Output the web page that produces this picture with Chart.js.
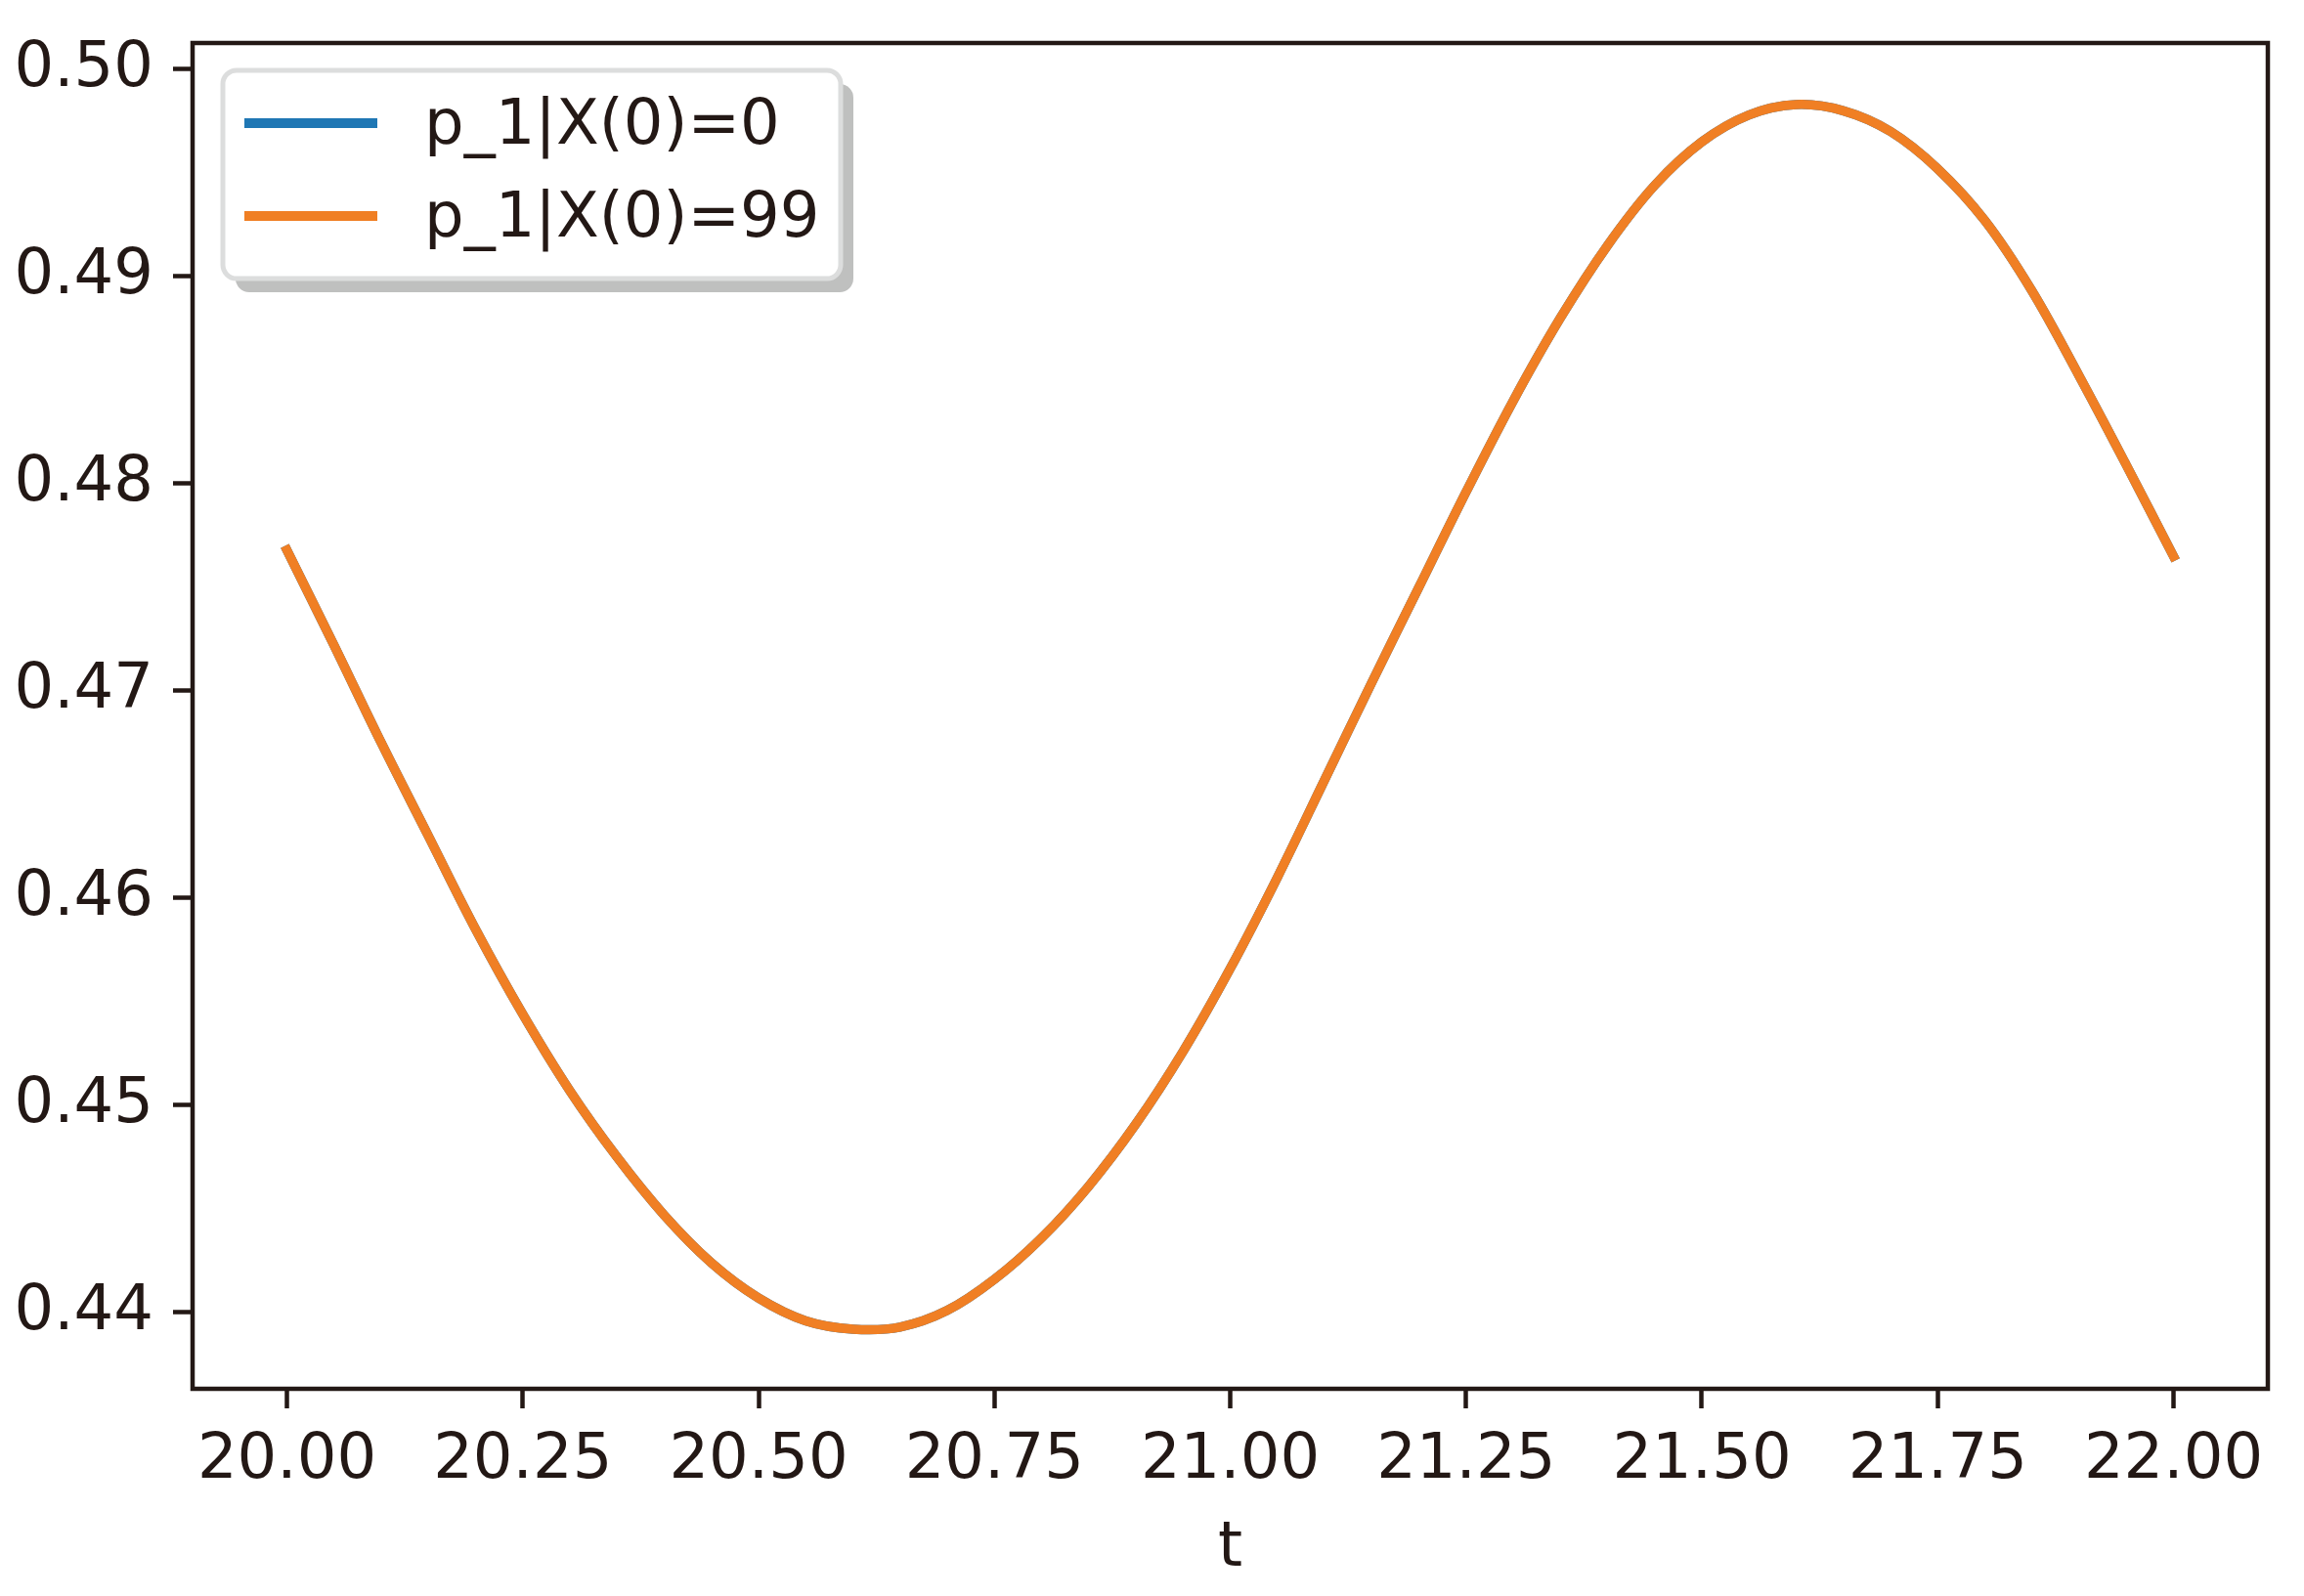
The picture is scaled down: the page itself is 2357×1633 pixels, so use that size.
<!DOCTYPE html>
<html>
<head>
<meta charset="utf-8">
<script src="https://cdn.jsdelivr.net/npm/chart.js@4.4.1/dist/chart.umd.min.js"></script>
<style>
html,body{margin:0;padding:0;background:#fff;}
#c{display:block;}
</style>
</head>
<body>
<canvas id="c" width="2357" height="1633"></canvas>
<script>
// values
const tVals=[20.00,20.05,20.10,20.15,20.20,20.25,20.30,20.35,20.40,20.45,20.50,20.55,20.60,20.65,20.70,20.75,20.80,20.85,20.90,20.95,
  21.00,21.05,21.10,21.15,21.20,21.25,21.30,21.35,21.40,21.45,21.50,21.55,21.60,21.65,21.70,21.75,21.80,21.85,21.90,21.95,22.00];
const p1From0=[0.4768,0.4722,0.4675,0.4630,0.4585,0.4544,0.4507,0.4475,0.4447,0.4424,0.4407,0.4396,0.4392,0.4393,0.4401,0.4416,0.4436,0.4461,0.4491,0.4526,
  0.4566,0.4610,0.4657,0.4704,0.4750,0.4796,0.4840,0.4880,0.4915,0.4944,0.4965,0.4978,0.4983,0.4980,0.4970,0.4952,0.4927,0.4893,0.4852,0.4809,0.4765];
const p1From99=[0.4768,0.4722,0.4675,0.4630,0.4585,0.4544,0.4507,0.4475,0.4447,0.4424,0.4407,0.4396,0.4392,0.4393,0.4401,0.4416,0.4436,0.4461,0.4491,0.4526,
  0.4566,0.4610,0.4657,0.4704,0.4750,0.4796,0.4840,0.4880,0.4915,0.4944,0.4965,0.4978,0.4983,0.4980,0.4970,0.4952,0.4927,0.4893,0.4852,0.4809,0.4765];
const seriesLabels=['p_1|X(0)=0','p_1|X(0)=99'];
const xTicks=[20.00,20.25,20.50,20.75,21.00,21.25,21.50,21.75,22.00];
const yTicks=[0.44,0.45,0.46,0.47,0.48,0.49,0.50];

const INK='#231815', BLUE='#1f77b4', ORANGE='#f07f24';
const FONT='"DejaVu Sans", sans-serif', FS=64;
Chart.defaults.font.family=FONT;

const toPts=arr=>arr.map((v,i)=>({x:tVals[i],y:v}));

// frame round the plot area (matplotlib style spines)
const framePlugin={id:'frame',afterDatasetsDraw(chart){
  const {ctx,chartArea:a}=chart;
  ctx.save();ctx.strokeStyle=INK;ctx.lineWidth=4.5;ctx.lineJoin='miter';
  ctx.strokeRect(a.left,a.top,a.right-a.left,a.bottom-a.top);
  ctx.restore();
}};

// legend with shadow, like matplotlib's legend(shadow=True)
const legendPlugin={id:'mplLegend',afterDraw(chart){
  const ctx=chart.ctx;
  const bx=228,by=72,bw=632,bh=213,r=14;
  function rr(x,y,w,h){ctx.beginPath();ctx.moveTo(x+r,y);ctx.arcTo(x+w,y,x+w,y+h,r);ctx.arcTo(x+w,y+h,x,y+h,r);ctx.arcTo(x,y+h,x,y,r);ctx.arcTo(x,y,x+w,y,r);ctx.closePath();}
  ctx.save();
  rr(bx+13,by+14,bw,bh);ctx.fillStyle='#bfc0bf';ctx.fill();
  rr(bx,by,bw,bh);ctx.fillStyle='#ffffff';ctx.fill();
  ctx.lineWidth=5;ctx.strokeStyle='#dcdddd';ctx.stroke();
  const rows=[126,221];
  chart.data.datasets.forEach((ds,i)=>{
    const y=rows[i];
    ctx.beginPath();ctx.moveTo(250,y);ctx.lineTo(386,y);
    ctx.lineWidth=10;ctx.strokeStyle=ds.borderColor;ctx.lineCap='butt';ctx.stroke();
    ctx.fillStyle=INK;ctx.font=FS+'px '+FONT;ctx.textBaseline='middle';ctx.textAlign='left';
    ctx.fillText(ds.label,434,y+4);
  });
  ctx.restore();
}};

new Chart(document.getElementById('c'),{
  type:'line',
  data:{datasets:[
    {label:seriesLabels[0],data:toPts(p1From0),borderColor:BLUE,backgroundColor:BLUE,borderWidth:9.5,order:1},
    {label:seriesLabels[1],data:toPts(p1From99),borderColor:ORANGE,backgroundColor:ORANGE,borderWidth:9.5,order:0}
  ]},
  options:{
    responsive:false,animation:false,devicePixelRatio:1,
    layout:{padding:{left:0,top:44,right:37,bottom:0}},
    elements:{point:{radius:0},line:{tension:0.35,borderCapStyle:'square'}},
    plugins:{legend:{display:false},tooltip:{enabled:false}},
    scales:{
      x:{type:'linear',min:19.9,max:22.1,
        afterBuildTicks:s=>{s.ticks=xTicks.map(v=>({value:v}));},
        afterFit:s=>{s.height=212;s.paddingLeft=0;s.paddingRight=0;},
        grid:{drawOnChartArea:false,drawTicks:true,tickLength:20,tickWidth:4.5,tickColor:INK},
        border:{display:false},
        ticks:{color:INK,font:{size:FS},padding:16,maxRotation:0,autoSkip:false,callback:v=>Number(v).toFixed(2)},
        title:{display:true,text:'t',color:INK,font:{size:FS},padding:{top:0,bottom:9}}
      },
      y:{type:'linear',min:0.43632,max:0.50127,
        afterBuildTicks:s=>{s.ticks=yTicks.map(v=>({value:v}));},
        afterFit:s=>{s.width=197;s.paddingTop=0;s.paddingBottom=0;},
        grid:{drawOnChartArea:false,drawTicks:true,tickLength:20,tickWidth:4.5,tickColor:INK},
        border:{display:false},
        ticks:{color:INK,font:{size:FS},padding:20,autoSkip:false,callback:v=>Number(v).toFixed(2)}
      }
    }
  },
  plugins:[framePlugin,legendPlugin]
});
</script>
</body>
</html>
